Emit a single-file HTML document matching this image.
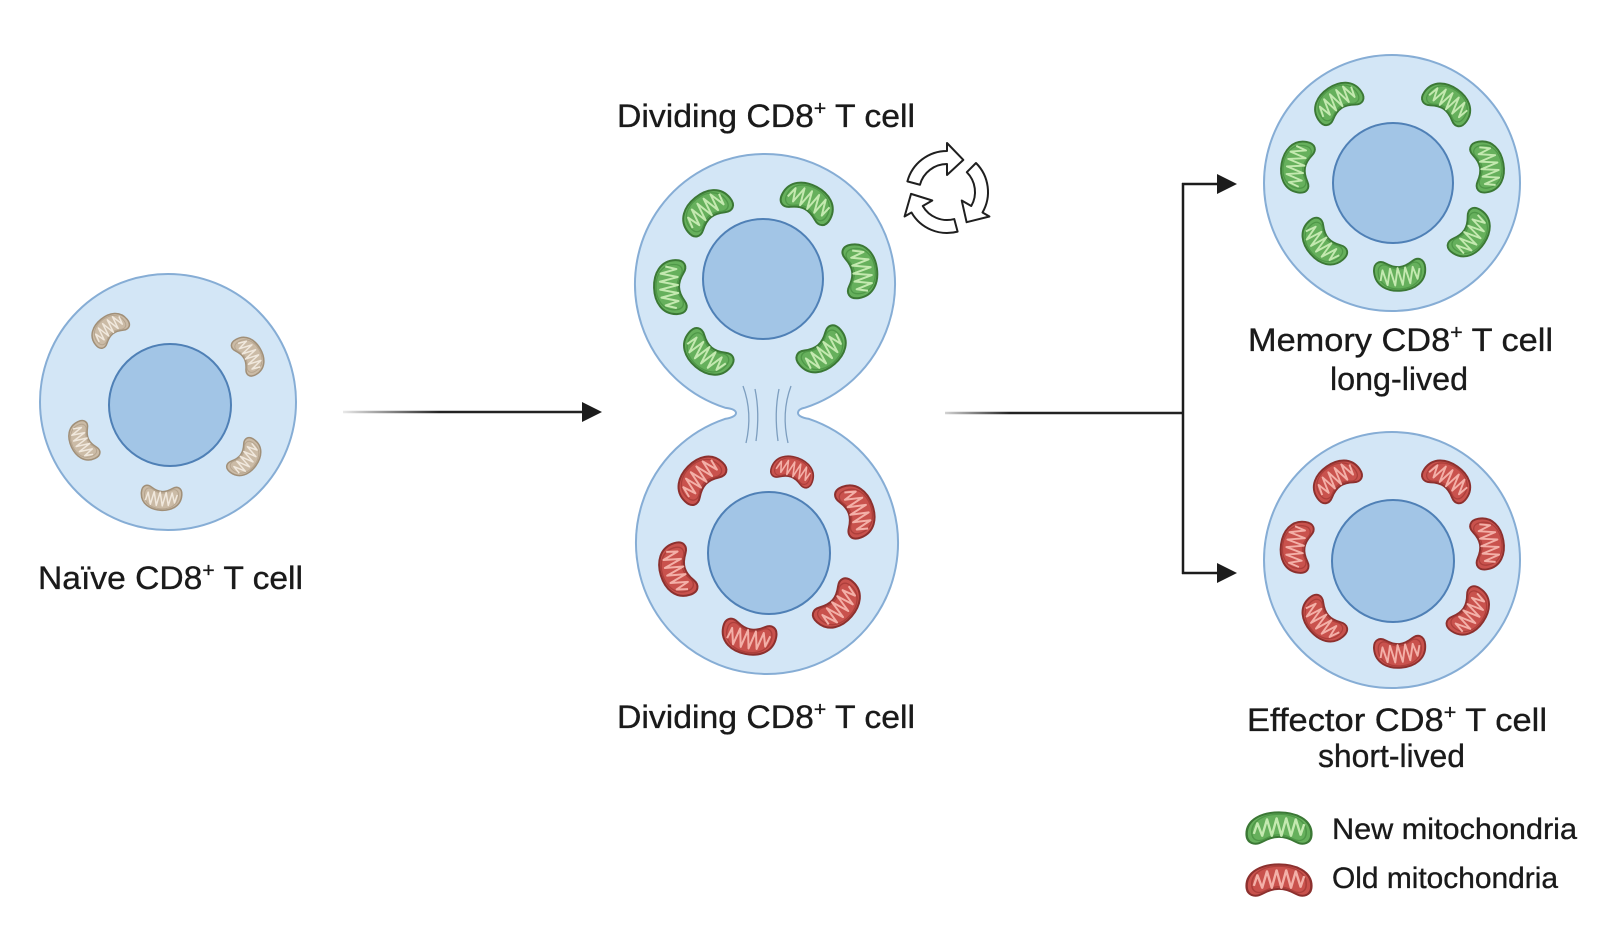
<!DOCTYPE html>
<html>
<head>
<meta charset="utf-8">
<style>
  html,body{margin:0;padding:0;background:#ffffff;}
  svg{display:block;}
  text{font-family:"Liberation Sans", Arial, sans-serif;fill:#1a1a1a;stroke:#1a1a1a;stroke-width:0.35;}
</style>
</head>
<body>
<svg width="1600" height="930" viewBox="0 0 1600 930" xmlns="http://www.w3.org/2000/svg">
  <defs>
    <path id="bean" d="M-27,4 C-27,-11 -14,-18 0,-18 C14,-18 27,-11 27,4 C27,14 20,16 14,12 C8,8 4,7 0,7 C-4,7 -8,8 -14,12 C-20,16 -27,14 -27,4 Z"/>
    <path id="cris" d="M-21,4 L-18,-7 L-14,6 L-10,-11 L-6,6 L-2,-12 L2,6 L6,-12 L10,6 L14,-11 L18,5 L21,-6"/>
    <g id="mg">
      <use href="#bean" fill="#66b05c" stroke="#3b7835" stroke-width="2"/>
      <use href="#bean" transform="translate(0,-1) scale(0.84)" fill="none" stroke="#4f9848" stroke-width="1.6"/>
      <use href="#cris" fill="none" stroke="#c4e9b0" stroke-width="2" stroke-linejoin="round"/>
    </g>
    <g id="mr">
      <use href="#bean" fill="#c9524d" stroke="#8c302e" stroke-width="2"/>
      <use href="#bean" transform="translate(0,-1) scale(0.84)" fill="none" stroke="#ad3f3b" stroke-width="1.6"/>
      <use href="#cris" fill="none" stroke="#f3b0a8" stroke-width="2" stroke-linejoin="round"/>
    </g>
    <g id="mb">
      <use href="#bean" fill="#cbbba6" stroke="#a08f78" stroke-width="2"/>
      <use href="#bean" transform="translate(0,-1) scale(0.84)" fill="none" stroke="#b6a58f" stroke-width="1.6"/>
      <use href="#cris" fill="none" stroke="#f0e8dd" stroke-width="2" stroke-linejoin="round"/>
    </g>
    <linearGradient id="fade1" gradientUnits="userSpaceOnUse" x1="343" y1="0" x2="440" y2="0">
      <stop offset="0" stop-color="#222" stop-opacity="0.1"/>
      <stop offset="1" stop-color="#222" stop-opacity="1"/>
    </linearGradient>
    <linearGradient id="fade2" gradientUnits="userSpaceOnUse" x1="945" y1="0" x2="1010" y2="0">
      <stop offset="0" stop-color="#222" stop-opacity="0.2"/>
      <stop offset="1" stop-color="#222" stop-opacity="1"/>
    </linearGradient>
  </defs>

  <!-- ============ Naive cell ============ -->
  <circle cx="168" cy="402" r="128" fill="#d3e6f6" stroke="#86add5" stroke-width="2"/>
  <circle cx="170" cy="405" r="61" fill="#a2c5e6" stroke="#4f80b6" stroke-width="2"/>
  <use href="#mb" transform="translate(168,402) rotate(231) translate(93,0) rotate(90) scale(0.75)"/>
  <use href="#mb" transform="translate(168,402) rotate(330) translate(93,0) rotate(90) scale(0.75)"/>
  <use href="#mb" transform="translate(168,402) rotate(155) translate(93,0) rotate(90) scale(0.75)"/>
  <use href="#mb" transform="translate(168,402) rotate(36) translate(95,0) rotate(90) scale(0.75)"/>
  <use href="#mb" transform="translate(168,402) rotate(94) translate(95,0) rotate(90) scale(0.75)"/>
  <text x="38" y="589" font-size="32" textLength="265" lengthAdjust="spacingAndGlyphs">Naïve CD8<tspan font-size="20" dy="-12">+</tspan><tspan dy="12"> T cell</tspan></text>

  <!-- Arrow 1 -->
  <line x1="343" y1="412" x2="586" y2="412" stroke="url(#fade1)" stroke-width="2.5"/>
  <polygon points="582,402 602,412 582,422" fill="#1c1c1c"/>

  <!-- ============ Dividing cell ============ -->
  <path d="M725,407.7 A130,130 0 1 1 805,407.7 Q798,409 798,413 Q798,417 809,418.9 A131,131 0 1 1 725,418.9 Q736,417 736,413 Q736,409 725,407.7 Z"
        fill="#d3e6f6" stroke="#86add5" stroke-width="2"/>
  <g stroke="#7d9ebf" stroke-width="1.3" fill="none">
    <path d="M743,386 Q753,413 746,443"/>
    <path d="M755,389 Q760,413 756,441"/>
    <path d="M779,389 Q774,413 778,441"/>
    <path d="M791,386 Q781,413 788,443"/>
  </g>
  <circle cx="763" cy="279" r="60" fill="#a2c5e6" stroke="#4f80b6" stroke-width="2"/>
  <circle cx="769" cy="553" r="61" fill="#a2c5e6" stroke="#4f80b6" stroke-width="2"/>
  <!-- green top -->
  <use href="#mg" transform="translate(765,284) rotate(231) translate(93,0) rotate(90)"/>
  <use href="#mg" transform="translate(765,284) rotate(298) translate(92,0) rotate(90)"/>
  <use href="#mg" transform="translate(765,284) rotate(178) translate(93,0) rotate(90)"/>
  <use href="#mg" transform="translate(765,284) rotate(352) translate(95,0) rotate(90)"/>
  <use href="#mg" transform="translate(765,284) rotate(130) translate(90,0) rotate(90)"/>
  <use href="#mg" transform="translate(765,284) rotate(49) translate(88,0) rotate(90)"/>
  <!-- red bottom -->
  <use href="#mr" transform="translate(767,543) rotate(224) translate(92,0) rotate(90)"/>
  <use href="#mr" transform="translate(767,543) rotate(290) translate(76,0) rotate(90) scale(0.8)"/>
  <use href="#mr" transform="translate(767,543) rotate(340) translate(94,0) rotate(90)"/>
  <use href="#mr" transform="translate(767,543) rotate(163) translate(93,0) rotate(90)"/>
  <use href="#mr" transform="translate(767,543) rotate(41) translate(94,0) rotate(90)"/>
  <use href="#mr" transform="translate(767,543) rotate(101) translate(95,0) rotate(90)"/>

  <text x="617" y="127" font-size="32" textLength="298" lengthAdjust="spacingAndGlyphs">Dividing CD8<tspan font-size="20" dy="-12">+</tspan><tspan dy="12"> T cell</tspan></text>
  <text x="617" y="728" font-size="32" textLength="298" lengthAdjust="spacingAndGlyphs">Dividing CD8<tspan font-size="20" dy="-12">+</tspan><tspan dy="12"> T cell</tspan></text>

  <!-- recycle icon -->
  <g transform="translate(947,192)" fill="#ffffff" stroke="#1f1f1f" stroke-width="2" stroke-linejoin="round">
    <path transform="rotate(195)" d="M41,0 A41,41 0 0 1 10.61,39.6 L12.68,47.33 L-7.49,35.22 L4.4,16.42 L7.25,27.05 A28,28 0 0 0 28,0 Z"/>
    <path transform="rotate(315)" d="M41,0 A41,41 0 0 1 10.61,39.6 L12.68,47.33 L-7.49,35.22 L4.4,16.42 L7.25,27.05 A28,28 0 0 0 28,0 Z"/>
    <path transform="rotate(75)" d="M41,0 A41,41 0 0 1 10.61,39.6 L12.68,47.33 L-7.49,35.22 L4.4,16.42 L7.25,27.05 A28,28 0 0 0 28,0 Z"/>
  </g>

  <!-- Arrow 2 (branch) -->
  <line x1="945" y1="413" x2="1184" y2="413" stroke="url(#fade2)" stroke-width="2.5"/>
  <line x1="1183" y1="183" x2="1183" y2="574" stroke="#1c1c1c" stroke-width="2.5"/>
  <line x1="1182" y1="184" x2="1220" y2="184" stroke="#1c1c1c" stroke-width="2.5"/>
  <polygon points="1217,174 1237,184 1217,194" fill="#1c1c1c"/>
  <line x1="1182" y1="573" x2="1220" y2="573" stroke="#1c1c1c" stroke-width="2.5"/>
  <polygon points="1217,563 1237,573 1217,583" fill="#1c1c1c"/>

  <!-- ============ Memory cell ============ -->
  <circle cx="1392" cy="183" r="128" fill="#d3e6f6" stroke="#86add5" stroke-width="2"/>
  <circle cx="1393" cy="183" r="60" fill="#a2c5e6" stroke="#4f80b6" stroke-width="2"/>
  <use href="#mg" transform="translate(1392,183) rotate(236) translate(97,0) rotate(90) scale(0.95)"/>
  <use href="#mg" transform="translate(1392,183) rotate(305) translate(97,0) rotate(90) scale(0.95)"/>
  <use href="#mg" transform="translate(1392,183) rotate(190) translate(95,0) rotate(90) scale(0.95)"/>
  <use href="#mg" transform="translate(1392,183) rotate(350) translate(96,0) rotate(90) scale(0.95)"/>
  <use href="#mg" transform="translate(1392,183) rotate(139) translate(91,0) rotate(90) scale(0.95)"/>
  <use href="#mg" transform="translate(1392,183) rotate(33) translate(93,0) rotate(90) scale(0.95)"/>
  <use href="#mg" transform="translate(1392,183) rotate(85) translate(91,0) rotate(90) scale(0.95)"/>
  <text x="1248" y="351" font-size="32" textLength="305" lengthAdjust="spacingAndGlyphs">Memory CD8<tspan font-size="20" dy="-12">+</tspan><tspan dy="12"> T cell</tspan></text>
  <text x="1330" y="390" font-size="32" textLength="138" lengthAdjust="spacingAndGlyphs">long-lived</text>

  <!-- ============ Effector cell ============ -->
  <circle cx="1392" cy="560" r="128" fill="#d3e6f6" stroke="#86add5" stroke-width="2"/>
  <circle cx="1393" cy="561" r="61" fill="#a2c5e6" stroke="#4f80b6" stroke-width="2"/>
  <use href="#mr" transform="translate(1392,560) rotate(235) translate(97,0) rotate(90) scale(0.95)"/>
  <use href="#mr" transform="translate(1392,560) rotate(305) translate(97,0) rotate(90) scale(0.95)"/>
  <use href="#mr" transform="translate(1392,560) rotate(188) translate(95,0) rotate(90) scale(0.95)"/>
  <use href="#mr" transform="translate(1392,560) rotate(350) translate(96,0) rotate(90) scale(0.95)"/>
  <use href="#mr" transform="translate(1392,560) rotate(139) translate(91,0) rotate(90) scale(0.95)"/>
  <use href="#mr" transform="translate(1392,560) rotate(34) translate(93,0) rotate(90) scale(0.95)"/>
  <use href="#mr" transform="translate(1392,560) rotate(85) translate(91,0) rotate(90) scale(0.95)"/>
  <text x="1247" y="731" font-size="32" textLength="300" lengthAdjust="spacingAndGlyphs">Effector CD8<tspan font-size="20" dy="-12">+</tspan><tspan dy="12"> T cell</tspan></text>
  <text x="1318" y="767" font-size="32" textLength="147" lengthAdjust="spacingAndGlyphs">short-lived</text>

  <!-- ============ Legend ============ -->
  <use href="#mg" transform="translate(1279,830) scale(1.2,0.98)"/>
  <use href="#mr" transform="translate(1279,882) scale(1.2,0.98)"/>
  <text x="1332" y="839" font-size="30" textLength="245" lengthAdjust="spacingAndGlyphs">New mitochondria</text>
  <text x="1332" y="888" font-size="30" textLength="226" lengthAdjust="spacingAndGlyphs">Old mitochondria</text>
</svg>
</body>
</html>
